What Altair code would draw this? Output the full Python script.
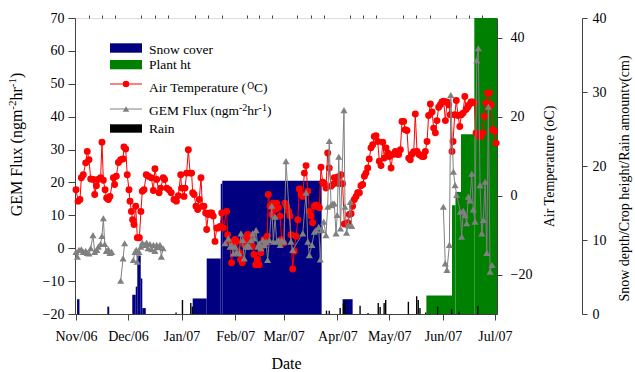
import altair as alt
import pandas as pd

FONT = "Liberation Serif"
AXIS_COLOR = "#404040"
NAVY = "#000080"
GREEN = "#008000"
RED = "#ff0000"
GREY = "#808080"

# Time is counted in days from 1 Nov 2006
X_DOMAIN = [-0.58, 243.2]
month_days = [0, 30, 61, 92, 120, 151, 181, 212, 242]
month_names = ["Nov/06", "Dec/06", "Jan/07", "Feb/07", "Mar/07",
               "Apr/07", "May/07", "Jun/07", "Jul/07"]

# Daily air temperature (deg C)
temp_day = [
    0.0, 1.2, 2.3, 3.1, 4.2, 5.6, 6.5, 7.5, 8.5, 10.0,
    10.8, 11.8, 12.7, 14.2, 15.0, 15.8, 16.8, 17.7, 18.7, 19.6,
    21.6, 22.3, 23.3, 24.5, 25.8, 27.2, 27.7, 28.7, 29.6, 30.6,
    31.2, 32.0, 32.7, 33.5, 34.5, 35.4, 36.6, 37.5, 38.3, 39.3,
    40.6, 41.8, 43.5, 44.7, 45.6, 46.6, 48.0, 48.9, 50.4, 51.2,
    52.4, 53.7, 55.0, 56.6, 58.0, 59.1, 60.5, 61.0, 62.4, 63.0,
    63.9, 64.9, 65.9, 66.8, 67.4, 68.2, 69.3, 70.3, 71.2, 72.2,
    73.0, 73.9, 74.9, 75.5, 76.4, 77.4, 78.4, 79.3, 80.3, 81.3,
    82.2, 83.2, 84.2, 85.1, 87.0, 87.6, 88.6, 89.9, 90.9, 91.9,
    92.8, 94.4, 95.1, 96.1, 97.1, 98.0, 99.0, 99.9, 100.9, 101.9,
    102.8, 103.8, 104.8, 105.7, 106.7, 107.6, 108.6, 109.6, 110.5, 111.1,
    112.1, 113.1, 114.0, 115.0, 115.9, 116.9, 117.9, 118.8, 119.8, 120.7,
    121.7, 122.9, 123.6, 124.2, 125.2, 126.1, 127.1, 128.1, 129.0, 130.0,
    131.0, 131.9, 132.9, 133.9, 134.8, 135.8, 136.7, 137.7, 138.6, 139.6,
    140.6, 141.5, 142.5, 143.5, 144.4, 145.4, 146.3, 147.3, 148.3, 149.2,
    150.2, 151.2, 152.1, 153.1, 154.0, 155.0, 156.0, 157.0, 157.9, 158.9,
    159.8, 160.8, 161.8, 162.7, 163.7, 164.6, 165.6, 166.6, 167.5, 168.5,
    169.4, 170.4, 171.4, 172.3, 173.3, 174.3, 175.2, 176.2, 177.2, 178.1,
    179.1, 180.1, 181.0, 182.0, 183.0, 184.5, 185.4, 186.4, 187.4, 188.3,
    189.3, 190.2, 191.2, 192.2, 193.1, 194.1, 195.1, 196.0, 197.0, 198.0,
    198.9, 199.9, 200.9, 201.8, 202.8, 203.7, 204.7, 205.7, 206.6, 207.6,
    208.5, 209.5, 210.5, 211.4, 212.4, 213.4, 214.3, 215.3, 216.2, 217.2,
    217.8, 218.8, 219.7, 220.7, 221.7, 222.6, 223.6, 224.6, 225.3, 226.3,
    227.2, 228.2, 229.2, 230.1, 231.1, 232.1, 233.0, 234.0, 235.0, 235.9,
    236.9, 237.9, 238.8, 239.8, 240.7, 241.7, 242.7,
]
temp_c = [
    1.5, -1.4, -1.0, 4.5, 5.3, 8.3, 11.2, 9.1, 4.2, 4.1,
    0.3, 2.5, 4.1, 4.5, 13.5, 3.9, 1.5, -0.6, -1.0, -0.2,
    4.5, 2.8, 4.9, 8.4, 9.1, 9.3, 12.3, 11.8, 5.3, 1.5,
    -1.4, -4.0, -6.1, -7.3, -2.7, -10.7, -10.7, -4.0, 1.1, 1.5,
    5.3, 4.9, 4.5, 1.3, 6.8, 4.1, 0.7, 1.9, 4.5, 4.1,
    1.9, 1.5, 0.7, -1.0, -1.4, 0.0, 5.3, 1.9, -0.2, 1.9,
    5.7, 11.6, 5.7, 5.7, 0.7, 0.3, -2.7, -3.5, -1.0, 4.5,
    -2.7, -2.7, -4.4, -8.6, -4.8, -4.4, -4.4, -5.2, -11.6, -8.2,
    -8.2, -7.8, -4.4, -8.2, -4.0, -9.9, -11.6, -17.0, -12.4, -11.1,
    -11.6, -14.5, -16.2, -17.0, -12.4, -11.1, -9.9, -9.9, -10.3, -12.8,
    -14.9, -17.5, -16.2, -17.5, -14.5, -12.8, -11.1, -12.0, -10.3, 0.3,
    -2.7, -4.8, -1.9, -3.5, -1.9, -3.1, -5.2, -11.1, -12.0, -1.9,
    -2.7, -4.0, -5.2, -9.9, -18.6, -14.1, -10.3, -6.1, 1.7, 0.3,
    -0.2, 5.7, 7.6, 1.1, -4.0, -5.2, -6.9, -2.7, -2.4, -2.7,
    -3.1, 7.2, 3.4, 3.0, 1.9, 10.8, 7.0, 2.4, 2.8, 4.5,
    3.2, 4.7, 3.0, 5.3, 3.0, -7.2, -7.1, -6.9, -4.8, -4.6,
    -2.7, -1.0, -0.2, 0.7, 0.7, 2.5, 2.8, 4.9, 5.7, 7.0,
    9.3, 12.1, 12.9, 15.0, 15.2, 13.7, 8.7, 7.6, 13.5, 9.5,
    12.1, 10.8, 9.9, 7.0, 10.4, 11.2, 10.5, 10.4, 11.6, 18.8,
    18.8, 16.7, 16.5, 9.5, 9.1, 10.5, 11.1, 20.7, 11.2, 10.5,
    10.2, 9.9, 9.9, 11.2, 13.7, 20.3, 23.2, 21.2, 17.1, 15.9,
    19.0, 22.4, 23.0, 23.7, 23.9, 19.0, 23.7, 23.0, 20.5, 11.2,
    13.7, 20.5, 24.1, 20.3, 17.5, 20.5, 20.9, 25.1, 21.8, 22.4,
    23.0, 23.7, 23.7, 23.5, 15.9, 15.3, 15.0, 15.0, 15.9, 20.1,
    23.5, 26.0, 26.0, 23.0, 16.7, 16.3, 13.3,
]

# GEM flux (ng m-2 hr-1), measured in separate campaigns
gem_day_1 = [0.0, 0.8, 1.7, 3.1, 4.2, 5.6, 6.5, 7.5, 8.5, 9.8, 10.8,
             12.0, 12.9, 14.2, 15.0, 15.8, 16.6, 17.5, 18.7, 19.6, 20.6]
gem_flux_1 = [-1.1, -2.6, -0.5, -0.3, -1.1, -0.8, -1.4, -1.6, 0.0, 4.0, -1.1,
              -0.5, 0.5, 1.3, 3.7, 9.1, 1.3, -0.8, -0.3, -1.4, -1.1]
gem_day_2 = [25.8, 27.2, 28.1]
gem_flux_2 = [-9.9, -3.1, 1.5]
gem_day_3 = [33.1, 34.1, 34.8, 35.4, 36.4, 37.4, 38.3, 39.7, 40.8, 41.6,
             42.7, 43.7, 44.7, 45.6, 46.6, 47.5, 48.5, 49.3, 50.3]
gem_flux_3 = [-3.6, -1.1, -0.5, -4.1, -1.1, 0.5, 1.7, 1.0, 1.7, 0.0,
              1.3, -0.3, 1.0, -0.8, 1.0, 0.3, 1.0, -2.6, 0.0]
gem_day_4 = [86.1, 88.0, 89.0, 89.9, 90.9, 91.9, 92.8, 94.3, 95.3, 96.3,
             97.2, 98.2, 99.2, 100.1, 101.1, 102.1, 103.0, 104.0, 105.0, 105.9,
             106.9, 107.9, 108.8, 109.8, 110.7, 111.7, 113.1, 114.0, 115.0, 115.9,
             116.9, 117.9, 118.8, 120.2, 121.3, 124.2, 125.2, 131.0, 132.9, 133.9,
             134.8, 136.3, 137.7, 138.6, 140.2, 141.1, 142.1, 143.1, 144.4, 145.4,
             146.3, 147.3, 148.3, 149.2, 150.2, 150.9, 151.8, 152.8, 154.8, 155.4,
             156.3, 157.3, 158.5, 159.3]
gem_flux_4 = [1.5, 3.0, 0.5, 1.0, -1.6, 0.5, -1.1, -1.6, 4.5, 2.5,
              -3.1, 0.5, 1.0, 0.5, 2.5, 4.5, 3.0, 5.5, 0.5, 1.5,
              0.0, 2.5, 1.0, 2.0, -3.6, 2.5, 12.9, 2.0, 9.6, 2.0,
              2.5, 1.0, 2.5, 2.0, 26.5, 2.0, -0.5, 4.5, 16.9, 2.0,
              -2.1, 1.0, 5.0, 5.5, 6.5, -3.4, 5.5, 8.1, 4.0, 12.6,
              32.6, 13.1, 13.6, 13.6, 4.5, 10.1, 27.8, 6.0, 42.0, 12.6,
              4.7, 7.1, 14.1, 6.8]
gem_day_5 = [212.2, 213.3, 214.3, 215.7, 216.5, 218.0, 219.0, 219.9, 222.0, 222.8,
             223.7, 224.7, 225.7, 226.6, 227.6, 228.6, 229.5, 230.5, 231.5, 232.4,
             233.4, 234.4, 235.3, 236.3, 237.3, 238.2, 239.2, 240.3]
gem_flux_5 = [12.6, -4.6, -6.6, 1.0, 46.6, 23.3, 19.2, 16.2, 11.1, 3.5,
              11.4, 10.1, 7.6, 15.7, 14.5, 22.7, 11.8, 8.1, 57.2, 60.8,
              19.2, 4.5, 8.6, 20.2, -1.4, 43.0, -7.1, -5.1]

# Rain events (cm)
rain_day = [61.1, 65.9, 66.8, 144.3, 145.9, 152.2, 154.1, 155.1, 163.7, 168.3,
            174.2, 175.3, 177.6, 178.5, 191.6, 196.4, 197.3, 198.3, 201.6, 208.5,
            216.6, 220.9, 231.7]
rain_cm = [1.9, 1.5, 1.0, 0.45, 0.45, 0.8, 1.45, 1.8, 1.1, 0.15,
           1.5, 0.95, 1.5, 1.9, 1.65, 2.4, 1.9, 0.8, 0.2, 1.0,
           0.65, 0.3, 1.05]
RAIN_WIDTH_DAYS = 0.8

# Snow depth (cm) as constant steps
snow_start = [0.6, 18.1, 32.5, 34.5, 35.4, 37.4, 38.3, 57.4, 67.4, 75.5, 83.6, 84.5, 154.0]
snow_end = [2.0, 19.2, 34.5, 35.4, 37.4, 38.3, 40.3, 58.2, 75.5, 83.6, 84.5, 141.9, 159.8]
snow_cm = [2.0, 1.0, 2.6, 3.7, 7.9, 4.8, 0.8, 0.2, 2.1, 7.5, 17.6, 18.0, 2.0]

# Crop height (cm) as constant steps
plant_start = [202.4, 217.2, 219.2, 222.4, 230.1]
plant_end = [217.2, 219.2, 222.4, 230.1, 243.2]
plant_cm = [2.5, 14.7, 16.5, 24.3, 40.0]

# ---------------------------------------------------------------- tables
temp_df = pd.DataFrame({"day": temp_day, "temp": temp_c})
gem_df = pd.concat([
    pd.DataFrame({"day": d, "flux": f, "run": i})
    for i, (d, f) in enumerate([(gem_day_1, gem_flux_1), (gem_day_2, gem_flux_2),
                                (gem_day_3, gem_flux_3), (gem_day_4, gem_flux_4),
                                (gem_day_5, gem_flux_5)])
], ignore_index=True)
rain_df = pd.DataFrame({"day": rain_day, "cm": rain_cm})
rain_df["day_end"] = rain_df["day"] + RAIN_WIDTH_DAYS
rain_df["base"] = 0.0
snow_df = pd.DataFrame({"start": snow_start, "end": snow_end, "cm": snow_cm, "base": 0.0})
plant_df = pd.DataFrame({"start": plant_start, "end": plant_end, "cm": plant_cm, "base": 0.0})
ONE = pd.DataFrame({"k": [0]})

# ---------------------------------------------------------------- axes
label_expr = "''"
for d, name in reversed(list(zip(month_days, month_names))):
    label_expr = f"datum.value == {d} ? '{name}' : ({label_expr})"

minor_days = []
for a, b in zip(month_days[:-1], month_days[1:]):
    minor_days += [a + (b - a) * k / 4 for k in (1, 2, 3)]

common = dict(domainColor=AXIS_COLOR, tickColor=AXIS_COLOR, grid=False,
              labelFont=FONT, labelColor="black", titleFont=FONT,
              titleColor="black", titleFontWeight="normal")

x_major = alt.Axis(values=month_days, labelExpr=label_expr, tickSize=6,
                   labelFontSize=14, labelPadding=20, labelBaseline="alphabetic",
                   labelFlush=False, labelOverlap=False, title="Date",
                   titleFontSize=16, titleY=54, titleBaseline="alphabetic", **common)
x_minor = alt.Axis(values=minor_days, labels=False, domain=False, tickSize=3,
                   tickColor=AXIS_COLOR, grid=False, title="")

gem_axis = alt.Axis(orient="left", values=list(range(-20, 71, 10)), tickSize=7,
                    labelPadding=4, labelFontSize=14, title="", **common)
temp_axis = alt.Axis(orient="right", values=[-20, 0, 20, 40], tickSize=5,
                     labelPadding=8, labelFontSize=14,
                     title="Air Temperature (oC)", titleFontSize=14, titleAngle=270,
                     titleX=56, titleY=148, titleAlign="center",
                     titleBaseline="alphabetic", **common)
snow_axis = alt.Axis(orient="right", offset=85, values=[0, 10, 20, 30, 40], tickSize=5,
                     labelPadding=5, labelFontSize=14,
                     title="Snow depth/Crop height/Rain amountv(cm)", titleFontSize=14,
                     titleAngle=270, titleX=46, titleY=160, titleAlign="center",
                     titleBaseline="alphabetic", **common)


def xq(field, axis=None):
    return alt.X(f"{field}:Q", scale=alt.Scale(domain=X_DOMAIN, nice=False, zero=False),
                 axis=axis)


def depth_y(axis=None):
    return alt.Y("cm:Q", scale=alt.Scale(domain=[0, 40], nice=False, zero=True), axis=axis)


# ---------------------------------------------------------------- data layers
snow = alt.Chart(snow_df).mark_rect(color=NAVY).encode(
    x=xq("start", x_major), x2="end:Q", y=depth_y(snow_axis), y2="base:Q")

plant = alt.Chart(plant_df).mark_rect(color=GREEN).encode(
    x=xq("start"), x2="end:Q", y=depth_y(), y2="base:Q")

temp = alt.Chart(temp_df).mark_line(
    color=RED, strokeWidth=1,
    point=alt.OverlayMarkDef(filled=True, color=RED, size=48, opacity=1),
).encode(
    x=xq("day"),
    y=alt.Y("temp:Q", scale=alt.Scale(domain=[-30, 45], nice=False, zero=False),
            axis=temp_axis),
)

gem = alt.Chart(gem_df).mark_line(
    color=GREY, strokeWidth=1,
    point=alt.OverlayMarkDef(shape="triangle-up", filled=True, color=GREY,
                             size=50, opacity=1),
).encode(
    x=xq("day"),
    y=alt.Y("flux:Q", scale=alt.Scale(domain=[-20, 70], nice=False, zero=False),
            axis=gem_axis),
    detail="run:N",
)

rain = alt.Chart(rain_df).mark_rect(color="black").encode(
    x=xq("day", x_minor), x2="day_end:Q", y=depth_y(), y2="base:Q")

# ---------------------------------------------------------------- text helpers
CHAR_W = {" ": 250, "(": 333, ")": 333, "-": 333, "/": 278, "1": 500, "2": 500,
          "A": 722, "C": 667, "E": 611, "F": 556, "G": 722, "M": 889, "O": 722,
          "P": 556, "R": 667, "S": 556, "T": 611, "a": 444, "c": 444, "d": 500,
          "e": 444, "g": 500, "h": 500, "i": 278, "l": 278, "m": 778, "n": 500,
          "o": 500, "p": 500, "r": 333, "t": 278, "u": 500, "v": 500, "w": 722,
          "x": 500}


def text_width(s, size):
    return sum(CHAR_W.get(c, 500) for c in s) * size / 1000.0


def text_piece(s, x, y, size, angle=0):
    return alt.Chart(ONE).mark_text(
        text=s, font=FONT, fontSize=size, align="left", baseline="alphabetic",
        angle=angle, color="black",
    ).encode(x=alt.value(x), y=alt.value(y))


def rich_run(pieces, x, y, vertical=False):
    """pieces: (text, font size, raise in px); laid out left-to-right or bottom-to-top."""
    out = []
    pos = y if vertical else x
    for s, size, lift in pieces:
        if vertical:
            out.append(text_piece(s, x - lift, pos, size, angle=270))
            pos -= text_width(s, size)
        else:
            out.append(text_piece(s, pos, y - lift, size))
            pos += text_width(s, size)
    return out


# Left axis title with superscripts, reading bottom to top
gem_title = [("GEM Flux (ngm", 16, 0), ("-2", 11, 6), ("hr", 16, 0), ("-1", 11, 6), (")", 16, 0)]
gem_title_len = sum(text_width(s, z) for s, z, _ in gem_title)
title_layers = rich_run(gem_title, -53, 126.5 + gem_title_len / 2, vertical=True)

# ---------------------------------------------------------------- legend
LX0, LX1, LTX, LFS = 35, 67, 74, 13.5


def legend_box(color, y0, y1):
    return alt.Chart(ONE).mark_rect(color=color).encode(
        x=alt.value(LX0), x2=alt.value(LX1), y=alt.value(y0), y2=alt.value(y1))


def legend_line(color, y, shape):
    rule = alt.Chart(ONE).mark_rule(color=color, strokeWidth=1).encode(
        x=alt.value(LX0), x2=alt.value(LX1), y=alt.value(y))
    dot = alt.Chart(ONE).mark_point(shape=shape, filled=True, color=color, size=42,
                                    opacity=1).encode(
        x=alt.value((LX0 + LX1) / 2), y=alt.value(y))
    return [rule, dot]


legend_layers = (
    [legend_box(NAVY, 25.3, 34.7), text_piece("Snow cover", LTX, 35.5, LFS),
     legend_box(GREEN, 42.0, 51.3), text_piece("Plant ht", LTX, 51.0, LFS)]
    + legend_line(RED, 66, "circle")
    + rich_run([("Air Temperature (", LFS, 0), ("O", 9.5, 3.5), ("C)", LFS, 0)], LTX, 74.2)
    + legend_line(GREY, 91, "triangle-up")
    + rich_run([("GEM Flux (ngm", LFS, 0), ("-2", 10, 4), ("hr", LFS, 0),
                ("-1", 10, 4), (")", LFS, 0)], LTX, 97.0)
    + [legend_box("black", 106.3, 114.7), text_piece("Rain", LTX, 114.7, LFS)]
)

chart = alt.layer(
    snow, plant, temp, gem, rain, *title_layers, *legend_layers
).resolve_scale(
    y="independent"
).resolve_axis(
    x="independent"
).properties(
    width=422, height=296,
    padding={"left": 75, "top": 18, "right": 138, "bottom": 58},
    autosize=alt.AutoSizeParams(type="none"),
).configure_view(stroke=None).configure(background="white")

chart.save("out.html", embed_options={"renderer": "svg", "actions": False})
